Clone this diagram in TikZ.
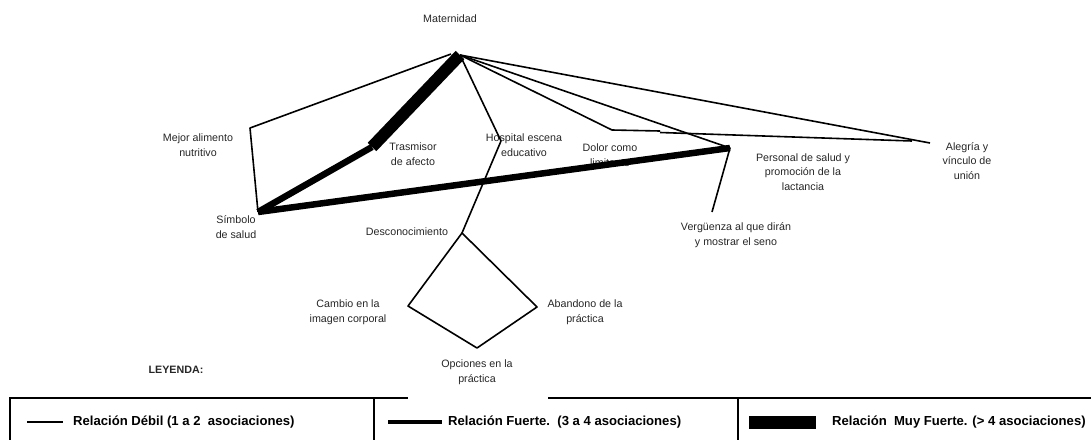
\documentclass[tikz,border=0pt]{standalone}
\usepackage{fontspec}
\setmainfont{Liberation Sans}
\begin{document}
\begin{tikzpicture}[x=1pt,y=-1pt,
  lbl/.style={font=\fontsize{10.7}{14.5}\selectfont, align=center, inner sep=0pt, text=black!85},
  weak/.style={line width=1.6pt, line join=round},
  strong/.style={line width=6.5pt},
  vstrong/.style={line width=12pt},
  legtxt/.style={font=\fontsize{13.1}{15}\selectfont\bfseries, anchor=west, inner sep=0pt},
  frame/.style={line width=2pt}]
\useasboundingbox (0,0) rectangle (1091,439);

% junction points of the concept map
\coordinate (mat) at (460,55);
\coordinate (matL) at (451,54);
\coordinate (mej) at (250,128);
\coordinate (sim) at (258,212);
\coordinate (tra) at (372,147);
\coordinate (hos) at (501,141);
\coordinate (des) at (462,233);
\coordinate (dol) at (612,130);
\coordinate (dolB) at (660,131);
\coordinate (dolC) at (660,132.5);
\coordinate (per) at (730,148);
\coordinate (ver) at (712,212);
\coordinate (ale) at (930,143);
\coordinate (aleB) at (912,141);
\coordinate (cam) at (408,306);
\coordinate (aba) at (537,307);
\coordinate (opc) at (477,348);

% labels
\node[lbl] (nmat) at (450,19) {Maternidad};
\node[lbl] (nmej) at (198,145) {Mejor alimento\\nutritivo};
\node[lbl] (ntra) at (413,154) {Trasmisor\\de afecto};
\node[lbl] (nhos) at (524,145) {Hospital escena\\educativo};
\node[lbl] (ndol) at (610,148) {Dolor como};
\begin{scope}
  \clip (585,156) rectangle (628,166);
  \node[lbl] (ndol2) at (610,163) {limitante};
\end{scope}
\node[lbl] (nper) at (803,172) {Personal de salud y\\promoción de la\\lactancia};
\node[lbl] (nale) at (967,161) {Alegría y\\vínculo de\\unión};
\node[lbl] (nver) at (736,235) {Vergüenza al que dirán\\y mostrar el seno};
\node[lbl] (nsim) at (236,227) {Símbolo\\de salud};
\node[lbl] (ndes) at (407,232) {Desconocimiento};
\node[lbl] (ncam) at (348,312) {Cambio en la\\imagen corporal};
\node[lbl] (naba) at (585,312) {Abandono de la\\práctica};
\node[lbl] (nopc) at (477,372) {Opciones en la\\práctica};
\node[lbl, font=\fontsize{10.7}{14.5}\selectfont\bfseries] (nley) at (176,370) {LEYENDA:};

% weak relations
\draw[weak] (matL) -- (mej) -- (sim);
\draw[weak] (mat) -- (hos) -- (des);
\draw[weak] (mat) -- (dol) -- (dolB);
\draw[weak] (dolC) -- (aleB);
\draw[weak] (mat) -- (per) -- (ver);
\draw[weak] (mat) -- (ale);
\draw[weak] (des) -- (aba) -- (opc) -- (cam) -- cycle;

% strong relations
\draw[strong] (tra) -- (sim);
\draw[strong, line join=round] (sim) -- (per);

% very strong relation
\draw[vstrong] (mat) -- (tra);

% legend frame
\draw[frame] (10,441) -- (10,398) -- (408,398);
\draw[frame] (548,398) -- (1091,398);
\draw[frame] (374,398) -- (374,441);
\draw[frame] (738,398) -- (738,441);

% legend entries
\coordinate (w1) at (27,422);
\coordinate (w2) at (63,422);
\draw[weak] (w1) -- (w2);
\node[legtxt] (lw) at (73,422) {Relación Débil (1 a 2\ \ asociaciones)};
\coordinate (s1) at (388,422);
\coordinate (s2) at (442,422);
\draw[line width=4.5pt] (s1) -- (s2);
\node[legtxt] (ls) at (448,422) {Relación Fuerte.\ \ (3 a 4 asociaciones)};
\fill (749,416) rectangle (816,429);
\node[legtxt] (lv) at (832,422) {Relación\ \ Muy Fuerte. (> 4 asociaciones)};
\end{tikzpicture}
\end{document}
